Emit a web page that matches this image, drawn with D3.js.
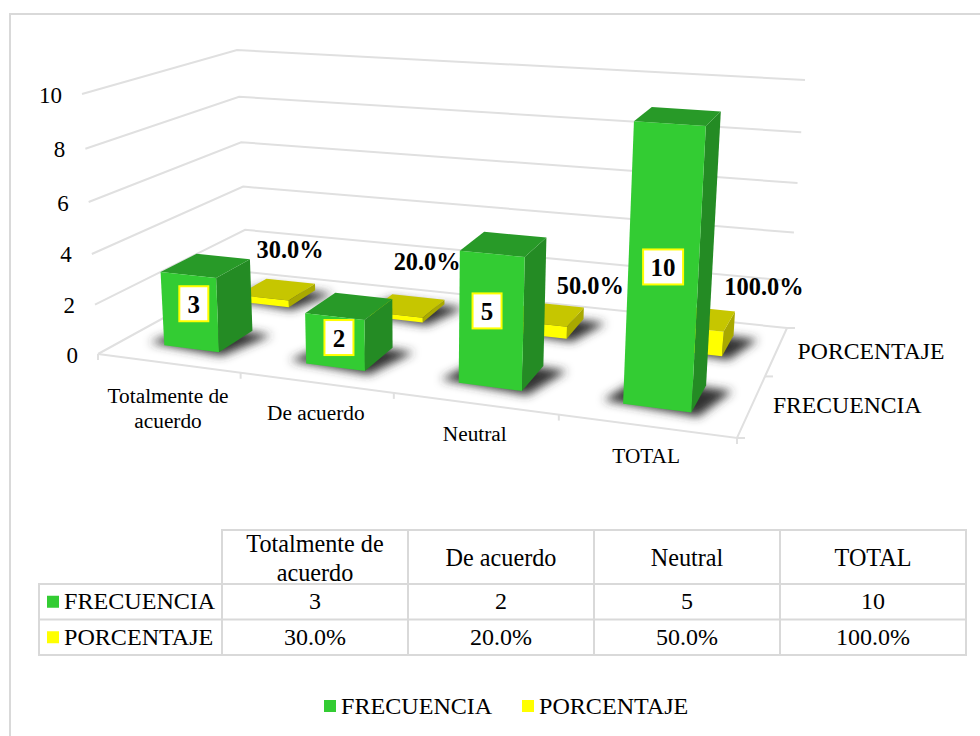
<!DOCTYPE html>
<html lang="en">
<head>
<meta charset="UTF-8">
<title>Frecuencia y porcentaje</title>
<script src="https://d3js.org/d3.v7.min.js"></script>
<style>
    body { margin: 0; background: #fff; }
    svg { display: block; font-family: "Liberation Serif", serif; fill: #000; }
    .grid { fill: none; stroke: #e0e0e0; stroke-width: 2px; }
    .frame { stroke: #d9d9d9; stroke-width: 2px; }
    .cell { fill: none; stroke: #d9d9d9; stroke-width: 2px; }
</style>
</head>
<body>
<svg width="980" height="736"></svg>
<script>
const categories = ["Totalmente de acuerdo", "De acuerdo", "Neutral", "TOTAL"];
const seriesNames = ["FRECUENCIA", "PORCENTAJE"];
const frecuencia = [3, 2, 5, 10];
const porcentaje = [0.3, 0.2, 0.5, 1.0];
const yTicks = [0, 2, 4, 6, 8, 10];

const svg = d3.select("svg");
const fmtPct = d3.format(".1%");
const values = [frecuencia, porcentaje];
const labelOf = [v => String(v), v => fmtPct(v)];

// frame of the 3d box on screen, corners as [x, y]
const floor = { fl: [98, 354], fr: [737, 438], bl: [247, 272], br: [787, 328] };
const roof = { fl: [82, 94], fr: [754, 140], bl: [237, 50], br: [805, 80] };

const uScale = d3.scaleBand().domain(categories).range([0, 1]);
const dScale = d3.scaleBand().domain(seriesNames).range([0, 1]);
const vScale = d3.scaleLinear().domain([0, 10]).range([0, 1]);
const lerp = (a, b, t) => a + (b - a) * t;

// perspective squeeze along width, depth and height
const warp = (t, r) => t / (t + (1 - t) * r);

function project(u, d, v) {
    const U = warp(u, 1.16), D = warp(d, 0.786), V = warp(vScale(v), 1.066);
    return [0, 1].map(i => {
        const bottom = lerp(lerp(floor.fl[i], floor.fr[i], U), lerp(floor.bl[i], floor.br[i], U), D);
        const top = lerp(lerp(roof.fl[i], roof.fr[i], U), lerp(roof.bl[i], roof.br[i], U), D);
        return lerp(bottom, top, V);
    });
}
const poly = pts => "M" + pts.map(p => p.join(",")).join("L") + "Z";

const defs = svg.append("defs");
defs.append("filter").attr("id", "soft").attr("x", "-50%").attr("y", "-80%").attr("width", "200%").attr("height", "260%")
    .append("feGaussianBlur").attr("stdDeviation", 5);

// chart border, only top and left are in the picture
svg.append("line").attr("class", "frame").attr("x1", 9).attr("x2", 980).attr("y1", 14).attr("y2", 14);
svg.append("line").attr("class", "frame").attr("x1", 10).attr("x2", 10).attr("y1", 13).attr("y2", 736);

// gridlines on the two walls
const grid = svg.append("g");
yTicks.forEach(t => {
    grid.append("path").attr("class", "grid")
        .attr("d", d3.line()([project(0, 0, t), project(0, 1, t), project(1, 1, t)]));
    grid.append("text").attr("x", project(0, 0, t)[0] - 20).attr("y", project(0, 0, t)[1] + 1)
        .attr("text-anchor", "end").attr("dominant-baseline", "central")
        .attr("font-size", 23).attr("fill", "#000").text(t);
});

// floor edges and ticks
grid.append("path").attr("class", "grid")
    .attr("d", d3.line()([project(0, 0, 0), project(1, 0, 0), project(1, 1, 0)]));
[0, 0.25, 0.5, 0.75, 1].forEach(u => {
    const p = project(u, 0, 0);
    grid.append("line").attr("class", "grid").attr("x1", p[0]).attr("y1", p[1]).attr("x2", p[0]).attr("y2", p[1] + 6);
});
[0, 0.5, 1].forEach(d => {
    const p = project(1, d, 0);
    grid.append("line").attr("class", "grid").attr("x1", p[0]).attr("y1", p[1]).attr("x2", p[0] + 8).attr("y2", p[1]);
});

// category and series names around the floor
const catLines = [["Totalmente de", "acuerdo"], ["De acuerdo"], ["Neutral"], ["TOTAL"]];
categories.forEach((c, i) => {
    const p = project(uScale(c) + uScale.bandwidth() / 2, 0, 0);
    catLines[i].forEach((line, k) => {
        svg.append("text").attr("x", p[0]).attr("y", p[1] + (i === 0 ? 33 : 30) + k * 25)
            .attr("text-anchor", "middle").attr("dominant-baseline", "central")
            .attr("font-size", 21.3).text(line);
    });
});
seriesNames.forEach(s => {
    const p = project(1, dScale(s) + dScale.bandwidth() / 2, 0);
    svg.append("text").attr("x", p[0] + 21).attr("y", p[1]).attr("text-anchor", "start")
        .attr("dominant-baseline", "central").attr("font-size", 23.7).text(s);
});

// bars, back row first
const barW = 0.0985, barD = 0.224;
const colors = [
    { front: "#33cc33", top: "#289a28", side: "#248b24" },
    { front: "#ffff00", top: "#c6c600", side: "#a9a900" }
];
const bars = svg.append("g");
[1, 0].forEach(si => {
    categories.forEach((c, i) => {
        const v = values[si][i];
        const u0 = uScale(c) + uScale.bandwidth() / 2 - barW / 2, u1 = u0 + barW;
        const dc = dScale(seriesNames[si]) + dScale.bandwidth() / 2;
        const d0 = dc - barD / 2, d1 = dc + barD / 2;
        bars.append("path")
            .attr("d", poly([project(u0 - 0.03, d0 + 0.01, 0), project(u1 + 0.012, d0 - 0.025, 0), project(u1 + 0.04, d1 - 0.02, 0), project(u0, d1, 0)]))
            .attr("fill", "#333").attr("filter", "url(#soft)");
        bars.append("path").attr("d", poly([project(u1, d0, 0), project(u1, d1, 0), project(u1, d1, v), project(u1, d0, v)])).attr("fill", colors[si].side);
        bars.append("path").attr("d", poly([project(u0, d0, v), project(u1, d0, v), project(u1, d1, v), project(u0, d1, v)])).attr("fill", colors[si].top);
        bars.append("path").attr("d", poly([project(u0, d0, 0), project(u1, d0, 0), project(u1, d0, v), project(u0, d0, v)])).attr("fill", colors[si].front);
    });
});

// data labels, Excel had them dragged by hand so each one has its own nudge
const freqNudge = [[4, -8], [4, -4], [-4, -10], [0, -3]];
const pctNudge = [[-25, 6], [-21, 3], [-1, 11], [18, -5]];
categories.forEach((c, i) => {
    const uc = uScale(c) + uScale.bandwidth() / 2;
    const p = project(uc, dScale(seriesNames[0]) + dScale.bandwidth() / 2 - barD / 2, frecuencia[i] / 2);
    const px = p[0] + freqNudge[i][0], py = p[1] + freqNudge[i][1];
    const w = frecuencia[i] >= 10 ? 40 : 29;
    svg.append("rect").attr("x", px - w / 2).attr("y", py - 18).attr("width", w).attr("height", 35)
        .attr("fill", "#fff").attr("stroke", "#ffff00").attr("stroke-width", 2);
    svg.append("text").attr("x", px).attr("y", py).attr("text-anchor", "middle").attr("dominant-baseline", "central")
        .attr("font-size", 25).attr("font-weight", "bold").text(labelOf[0](frecuencia[i]));

    const q = project(uc + 0.09, dScale(seriesNames[1]) + dScale.bandwidth() / 2, 0);
    svg.append("text").attr("x", q[0] - 8 + pctNudge[i][0]).attr("y", q[1] - 57 + pctNudge[i][1])
        .attr("text-anchor", "middle").attr("dominant-baseline", "central")
        .attr("font-size", 24.4).attr("font-weight", "bold").text(labelOf[1](porcentaje[i]));
});

// data table under the chart
const colX = d3.scaleBand().domain(categories).range([222, 966]);
const rowY = d3.scaleBand().domain(seriesNames).range([584, 655]);
const table = svg.append("g");
table.append("rect").attr("class", "cell").attr("x", 222).attr("y", 530).attr("width", 744).attr("height", 125);
table.append("rect").attr("class", "cell").attr("x", 39).attr("y", 584).attr("width", 927).attr("height", 71);
table.append("line").attr("class", "cell").attr("x1", 39).attr("x2", 966).attr("y1", rowY(seriesNames[1])).attr("y2", rowY(seriesNames[1]));
categories.forEach((c, i) => {
    if (i) table.append("line").attr("class", "cell").attr("x1", colX(c)).attr("x2", colX(c)).attr("y1", 530).attr("y2", 655);
    const cx = colX(c) + colX.bandwidth() / 2;
    catLines[i].forEach((line, k) => {
        const n = catLines[i].length;
        table.append("text").attr("x", cx).attr("y", 557.5 + (k - (n - 1) / 2) * 29)
            .attr("text-anchor", "middle").attr("dominant-baseline", "central").attr("font-size", 24.2).text(line);
    });
    seriesNames.forEach((s, si) => {
        table.append("text").attr("x", cx).attr("y", rowY(s) + rowY.bandwidth() / 2 - 0.5)
            .attr("text-anchor", "middle").attr("dominant-baseline", "central").attr("font-size", 24).text(labelOf[si](values[si][i]));
    });
});
const seriesColor = [colors[0].front, colors[1].front];
seriesNames.forEach((s, si) => {
    const y = rowY(s) + rowY.bandwidth() / 2;
    table.append("rect").attr("x", 47).attr("y", y - 6).attr("width", 12).attr("height", 12).attr("fill", seriesColor[si]);
    table.append("text").attr("x", 64).attr("y", y - 0.5).attr("dominant-baseline", "central").attr("font-size", 24.1).text(s);
});

// legend
const legendX = d3.scalePoint().domain(seriesNames).range([324, 522]);
seriesNames.forEach((s, si) => {
    svg.append("rect").attr("x", legendX(s)).attr("y", 700).attr("width", 12).attr("height", 12).attr("fill", seriesColor[si]);
    svg.append("text").attr("x", legendX(s) + 17).attr("y", 706).attr("dominant-baseline", "central").attr("font-size", 24.1).text(s);
});
</script>
</body>
</html>
